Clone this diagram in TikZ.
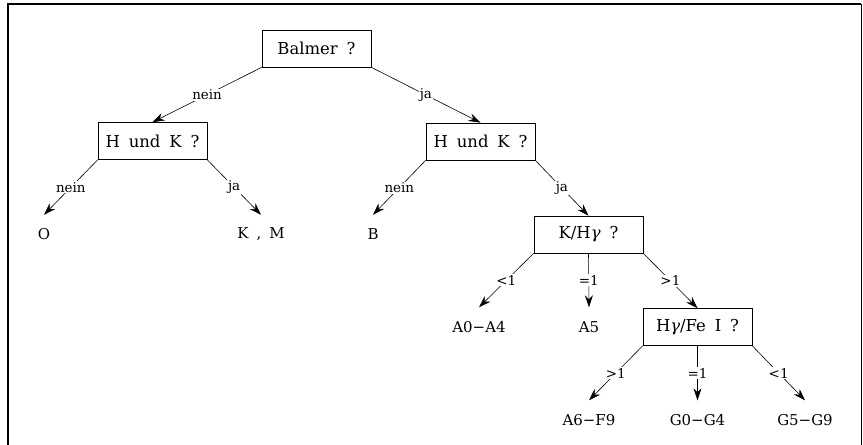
\documentclass[tikz,border=0pt]{standalone}
\usepackage{fontspec}
\setmainfont{DejaVu Serif}[WordSpace=1.7]
\usetikzlibrary{arrows.meta}
\begin{document}
\begin{tikzpicture}[x=1bp,y=-1bp,
 box/.style={draw, line width=0.6bp, minimum width=109bp, minimum height=37bp, inner sep=0pt, font=\fontsize{16.5}{18}\selectfont},
 leaf/.style={minimum height=39bp, inner sep=0pt, font=\fontsize{15}{17}\selectfont},
 lbl/.style={fill=white, inner sep=1pt, font=\fontsize{13.5}{15}\selectfont},
 edge/.style={line width=0.6bp, -{Stealth[length=12bp,width=8bp,inset=4bp]}}]
\useasboundingbox (0,0) rectangle (863,445);
% frame
\draw[line width=1.8bp] (8,445) -- (8,4) -- (861,4);
\draw[line width=0.8bp] (861,4) -- (861,445);
% question boxes
\node[box] (bal) at (316.5,48.5) {Balmer ?};
\node[box] (hk1) at (152.5,141) {H und K ?};
\node[box] (hk2) at (480.5,141.5) {H und K ?};
\node[box] (kh) at (588.5,234.5) {K/H{\itshape γ} ?};
\node[box] (hf) at (697.5,327) {H{\itshape γ}/Fe I ?};
% leaves
\node[leaf] (o) at (44,234.5) {O};
\node[leaf] (km) at (261,234.5) {K , M};
\node[leaf] (b) at (373,234.5) {B};
\node[leaf] (a04) at (479,327) {A0−A4};
\node[leaf] (a5) at (589,327) {A5};
\node[leaf] (a6f9) at (589,420) {A6−F9};
\node[leaf] (g04) at (697.5,420) {G0−G4};
\node[leaf] (g59) at (805,420) {G5−G9};
% edges
\draw[edge] (bal.south west) -- node[lbl]{nein} (hk1.north);
\draw[edge] (bal.south east) -- node[lbl]{ja} (hk2.north);
\draw[edge] (hk1.south west) -- node[lbl]{nein} (o.north);
\draw[edge] (hk1.south east) -- node[lbl]{ja} (km.north);
\draw[edge] (hk2.south west) -- node[lbl]{nein} (b.north);
\draw[edge] (hk2.south east) -- node[lbl]{ja} (kh.north);
\draw[edge] (kh.south west) -- node[lbl]{<1} (a04.north);
\draw[edge] (kh.south) -- node[lbl]{=1} (a5.north);
\draw[edge] (kh.south east) -- node[lbl]{>1} (hf.north);
\draw[edge] (hf.south west) -- node[lbl]{>1} (a6f9.north);
\draw[edge] (hf.south) -- node[lbl]{=1} (g04.north);
\draw[edge] (hf.south east) -- node[lbl]{<1} (g59.north);
\end{tikzpicture}
\end{document}
